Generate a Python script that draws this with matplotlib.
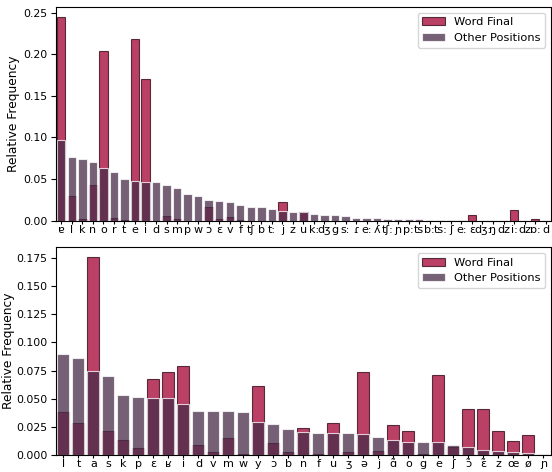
import numpy as np
import matplotlib
matplotlib.use("Agg")
import matplotlib.pyplot as plt

# ---- Top panel data ----
top_labels = ["ɐ", "l", "k", "n", "o", "r", "t", "e", "i", "d", "s", "m", "p", "w", "ɔ", "ɛ",
              "v", "f", "tʃ", "b", "t:", "j", "z", "u", "k:", "dʒ", "g", "s:", "ɾ", "e:", "ʎ",
              "tʃ:", "ɲ", "p:", "ts", "b:", "ts:", "ʃ", "e:", "ɛ", "dʒ:", "ŋ", "dz", "i:", "dz",
              "ɒ:", "d"]
top_final = [0.2444, 0.0300, 0.0016, 0.0429, 0.2039, 0.0032, 0.0005, 0.2187, 0.1707, 0.0,
             0.0056, 0.0020, 0.0, 0.0, 0.0160, 0.0020, 0.0044, 0.0008, 0.0, 0.0,
             0.0, 0.0228, 0.0, 0.0104, 0.0, 0.0, 0.0, 0.0, 0.0, 0.0,
             0.0, 0.0, 0.0, 0.0, 0.0, 0.0, 0.0, 0.0, 0.0, 0.0064,
             0.0, 0.0, 0.0, 0.0124, 0.0, 0.0016, 0.0]
top_other = [0.0970, 0.0769, 0.0745, 0.0701, 0.0633, 0.0589, 0.0505, 0.0473, 0.0465, 0.0461,
             0.0425, 0.0397, 0.0325, 0.0300, 0.0252, 0.0236, 0.0228, 0.0184, 0.0168, 0.0160,
             0.0140, 0.0116, 0.0104, 0.0104, 0.0084, 0.0068, 0.0064, 0.0056, 0.0036, 0.0032,
             0.0028, 0.0024, 0.0020, 0.0020, 0.0016, 0.0012, 0.0008, 0.0008, 0.0004, 0.0002,
             0.0002, 0.0002, 0.0002, 0.0002, 0.0001, 0.0001, 0.0001]

# ---- Bottom panel data ----
bot_labels = ["l", "t", "a", "s", "k", "p", "ɛ", "ʁ", "i", "d", "v", "m", "w", "y", "ɔ", "b",
              "n", "f", "u", "ʒ", "ə", "j", "ɑ̃", "o", "g", "e", "ʃ", "ɔ̃", "ɛ̃", "z", "œ", "ø", "ɲ"]
bot_final = [0.0385, 0.0282, 0.1759, 0.0215, 0.0129, 0.0062, 0.0674, 0.0735, 0.0788, 0.0091,
             0.0026, 0.0147, 0.0006, 0.0615, 0.0103, 0.0029, 0.0241, 0.0004, 0.0279, 0.0026,
             0.0735, 0.0035, 0.0265, 0.0215, 0.0004, 0.0706, 0.0071, 0.0409, 0.0409, 0.0212,
             0.0121, 0.0177, 0.0]
bot_other = [0.0900, 0.0865, 0.0747, 0.0700, 0.0532, 0.0518, 0.0509, 0.0509, 0.0450, 0.0394,
             0.0394, 0.0391, 0.0377, 0.0291, 0.0271, 0.0232, 0.0200, 0.0197, 0.0191, 0.0191,
             0.0185, 0.0162, 0.0132, 0.0115, 0.0115, 0.0112, 0.0088, 0.0068, 0.0041, 0.0032,
             0.0024, 0.0015, 0.0003]

PINK = "#a30033"
GREY = "#472b48"
ALPHA = 0.75

fig = plt.figure(figsize=(5.52, 4.72), dpi=100)
ax1 = fig.add_axes([0.1014, 0.5324, 0.8966, 0.4526])
ax2 = fig.add_axes([0.1014, 0.0365, 0.8966, 0.4395])


def draw(ax, labels, final, other):
    x = np.arange(len(labels))
    ax.bar(x, final, width=0.8, color=PINK, alpha=ALPHA, edgecolor="#2a0010",
           linewidth=0.8, label="Word Final")
    ax.bar(x, other, width=0.8, color=GREY, alpha=ALPHA, edgecolor="white",
           linewidth=0.8, label="Other Positions")
    ax.set_xticks(x)
    ax.set_xticklabels(labels, fontsize=8)
    ax.set_xlim(-0.5, len(labels) - 0.5)
    ax.tick_params(axis="y", labelsize=7.8, pad=2.5)
    ax.tick_params(axis="x", length=2, pad=1)
    ax.set_ylabel("Relative Frequency", fontsize=8.8)
    ax.legend(loc="upper right", fontsize=8.2, handlelength=2.0, borderaxespad=0.5)


draw(ax1, top_labels, top_final, top_other)
draw(ax2, bot_labels, bot_final, bot_other)
ax1.yaxis.set_label_coords(-0.073, 0.5)
ax2.yaxis.set_label_coords(-0.082, 0.5)

fig.savefig("out.png", dpi=100)
